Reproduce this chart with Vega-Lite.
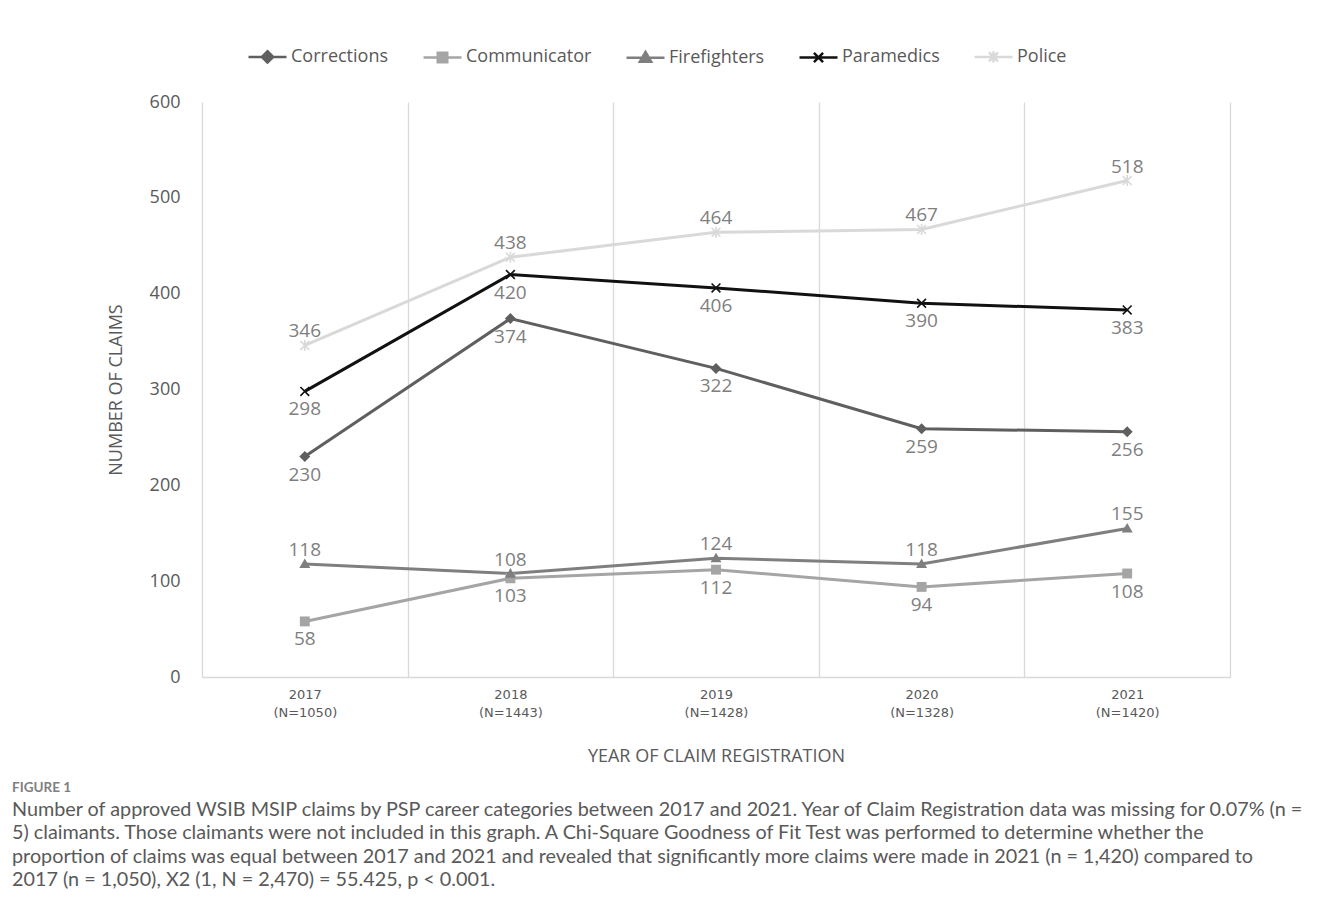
{
  "$schema": "https://vega.github.io/schema/vega-lite/v6.json",
  "width": 1028,
  "height": 575,
  "autosize": {"type": "none"},
  "padding": {"left": 202, "top": 102, "right": 103, "bottom": 239},
  "background": "white",
  "config": {
    "view": {"stroke": null},
    "font": "Open Sans"
  },
  "title": {
    "text": "FIGURE 1",
    "subtitle": [
      "Number of approved WSIB MSIP claims by PSP career categories between 2017 and 2021. Year of Claim Registration data was missing for 0.07% (n =",
      "5) claimants. Those claimants were not included in this graph. A Chi-Square Goodness of Fit Test was performed to determine whether the",
      "proportion of claims was equal between 2017 and 2021 and revealed that significantly more claims were made in 2021 (n = 1,420) compared to",
      "2017 (n = 1,050), X2 (1, N = 2,470) = 55.425, p < 0.001."
    ],
    "orient": "bottom",
    "anchor": "start",
    "frame": "group",
    "dx": -190,
    "offset": 16,
    "font": "Lato",
    "fontSize": 13.5,
    "fontWeight": "bold",
    "color": "#7f7f7f",
    "subtitleFont": "Lato",
    "subtitleFontSize": 19.8,
    "subtitleColor": "#595959",
    "subtitleLineHeight": 23.5,
    "subtitlePadding": 5
  },
  "data": {
    "values": [
      {"year": "2017 (N=1050)", "series": "Corrections", "claims": 230},
      {"year": "2018 (N=1443)", "series": "Corrections", "claims": 374},
      {"year": "2019 (N=1428)", "series": "Corrections", "claims": 322},
      {"year": "2020 (N=1328)", "series": "Corrections", "claims": 259},
      {"year": "2021 (N=1420)", "series": "Corrections", "claims": 256},
      {"year": "2017 (N=1050)", "series": "Communicator", "claims": 58},
      {"year": "2018 (N=1443)", "series": "Communicator", "claims": 103},
      {"year": "2019 (N=1428)", "series": "Communicator", "claims": 112},
      {"year": "2020 (N=1328)", "series": "Communicator", "claims": 94},
      {"year": "2021 (N=1420)", "series": "Communicator", "claims": 108},
      {"year": "2017 (N=1050)", "series": "Firefighters", "claims": 118},
      {"year": "2018 (N=1443)", "series": "Firefighters", "claims": 108},
      {"year": "2019 (N=1428)", "series": "Firefighters", "claims": 124},
      {"year": "2020 (N=1328)", "series": "Firefighters", "claims": 118},
      {"year": "2021 (N=1420)", "series": "Firefighters", "claims": 155},
      {"year": "2017 (N=1050)", "series": "Paramedics", "claims": 298},
      {"year": "2018 (N=1443)", "series": "Paramedics", "claims": 420},
      {"year": "2019 (N=1428)", "series": "Paramedics", "claims": 406},
      {"year": "2020 (N=1328)", "series": "Paramedics", "claims": 390},
      {"year": "2021 (N=1420)", "series": "Paramedics", "claims": 383},
      {"year": "2017 (N=1050)", "series": "Police", "claims": 346},
      {"year": "2018 (N=1443)", "series": "Police", "claims": 438},
      {"year": "2019 (N=1428)", "series": "Police", "claims": 464},
      {"year": "2020 (N=1328)", "series": "Police", "claims": 467},
      {"year": "2021 (N=1420)", "series": "Police", "claims": 518}
    ]
  },
  "encoding": {
    "x": {
      "field": "year",
      "type": "nominal",
      "sort": null,
      "bandPosition": 0.5,
      "scale": {"type": "band", "paddingInner": 0, "paddingOuter": 0},
      "axis": {
        "tickBand": "extent",
        "grid": true,
        "gridColor": "#d9d9d9",
        "gridWidth": 1.3,
        "ticks": false,
        "domain": true,
        "domainColor": "#d9d9d9",
        "domainWidth": 1.3,
        "labelAngle": 0,
        "labelExpr": "split(datum.label, ' ')",
        "labelFont": "DejaVu Sans",
        "labelFontSize": 13,
        "labelColor": "#595959",
        "labelLineHeight": 18,
        "labelPadding": 11,
        "title": "YEAR OF CLAIM REGISTRATION",
        "titleFont": "Open Sans",
        "titleFontSize": 18,
        "titleFontWeight": "normal",
        "titleColor": "#595959",
        "titlePadding": 28
      }
    },
    "y": {
      "field": "claims",
      "type": "quantitative",
      "scale": {"domain": [0, 600], "nice": false},
      "axis": {
        "values": [0, 100, 200, 300, 400, 500, 600],
        "grid": false,
        "domain": false,
        "ticks": false,
        "labelFont": "Open Sans",
        "labelFontSize": 18,
        "labelColor": "#595959",
        "labelPadding": 22,
        "title": "NUMBER OF CLAIMS",
        "titleFont": "Open Sans",
        "titleFontSize": 18,
        "titleFontWeight": "normal",
        "titleColor": "#595959",
        "titlePadding": 24
      }
    }
  },
  "resolve": {
    "scale": {"shape": "independent"},
    "legend": {"color": "independent", "shape": "independent"}
  },
  "layer": [
    {
      "mark": {"type": "point", "filled": false, "opacity": 0, "strokeWidth": 2.5},
      "encoding": {
        "color": {
          "field": "series",
          "type": "nominal",
          "scale": {
            "domain": ["Corrections", "Communicator", "Firefighters", "Paramedics", "Police"],
            "range": ["#5f5f5f", "#a5a5a5", "#7f7f7f", "#111111", "#d9d9d9"]
          },
          "legend": {
            "orient": "none",
            "legendX": 45,
            "legendY": -66,
            "direction": "horizontal",
            "columns": 5,
            "title": null,
            "padding": 0,
            "labelFont": "Open Sans",
            "labelFontSize": 18,
            "labelColor": "#595959",
            "labelOffset": 3,
            "columnPadding": 29,
            "symbolSize": 1444,
            "symbolStrokeWidth": 2.5,
            "symbolOpacity": 1
          }
        },
        "shape": {
          "field": "series",
          "type": "nominal",
          "scale": {
            "domain": ["Corrections", "Communicator", "Firefighters", "Paramedics", "Police"],
            "range": [
              "M-1,0H1M0,-0.3L0.3,0L0,0.3L-0.3,0ZM0,-0.15L0.15,0L0,0.15L-0.15,0Z",
              "M-1,0H1M-0.25,-0.25H0.25V0.25H-0.25ZM-0.12,-0.12H0.12V0.12H-0.12Z",
              "M-1,0H1M0,-0.3L0.3,0.22H-0.3ZM0,-0.12L0.13,0.1H-0.13Z",
              "M-1,0H1M-0.24,-0.24L0.24,0.24M0.24,-0.24L-0.24,0.24",
              "M-1,0H1M-0.24,-0.24L0.24,0.24M0.24,-0.24L-0.24,0.24M0,-0.3V0.3"
            ]
          },
          "legend": {
            "orient": "none",
            "legendX": 45,
            "legendY": -66,
            "direction": "horizontal",
            "columns": 5,
            "title": null,
            "padding": 0,
            "labelFont": "Open Sans",
            "labelFontSize": 18,
            "labelColor": "#595959",
            "labelOffset": 3,
            "columnPadding": 29,
            "symbolSize": 1444,
            "symbolStrokeWidth": 2.5,
            "symbolOpacity": 1
          }
        }
      }
    },
    {
      "mark": {"type": "line", "strokeWidth": 3},
      "encoding": {
        "color": {"field": "series", "type": "nominal", "legend": null}
      }
    },
    {
      "transform": [{"filter": {"field": "series", "oneOf": ["Corrections", "Communicator", "Firefighters"]}}],
      "mark": {"type": "point", "filled": true, "opacity": 1, "size": 121},
      "encoding": {
        "color": {"field": "series", "type": "nominal", "legend": null},
        "shape": {
          "field": "series",
          "type": "nominal",
          "scale": {
            "domain": ["Corrections", "Communicator", "Firefighters"],
            "range": ["M0,-1L1,0L0,1L-1,0Z", "M-0.9,-0.9H0.9V0.9H-0.9Z", "M0,-1L1,0.75H-1Z"]
          },
          "legend": null
        }
      }
    },
    {
      "transform": [{"filter": {"field": "series", "oneOf": ["Paramedics", "Police"]}}],
      "mark": {"type": "point", "filled": false, "opacity": 1, "size": 121, "strokeWidth": 1.6},
      "encoding": {
        "color": {"field": "series", "type": "nominal", "legend": null},
        "shape": {
          "field": "series",
          "type": "nominal",
          "scale": {
            "domain": ["Paramedics", "Police"],
            "range": ["M-0.8,-0.8L0.8,0.8M0.8,-0.8L-0.8,0.8", "M-0.8,-0.8L0.8,0.8M0.8,-0.8L-0.8,0.8M0,-1V1"]
          },
          "legend": null
        }
      }
    },
    {
      "transform": [{"filter": {"field": "series", "oneOf": ["Police", "Firefighters"]}}],
      "mark": {"type": "text", "dy": -14, "font": "Open Sans", "fontSize": 19, "color": "#7f7f7f"},
      "encoding": {"text": {"field": "claims", "type": "quantitative"}}
    },
    {
      "transform": [{"filter": {"field": "series", "oneOf": ["Corrections", "Communicator", "Paramedics"]}}],
      "mark": {"type": "text", "dy": 18, "font": "Open Sans", "fontSize": 19, "color": "#7f7f7f"},
      "encoding": {"text": {"field": "claims", "type": "quantitative"}}
    }
  ]
}
